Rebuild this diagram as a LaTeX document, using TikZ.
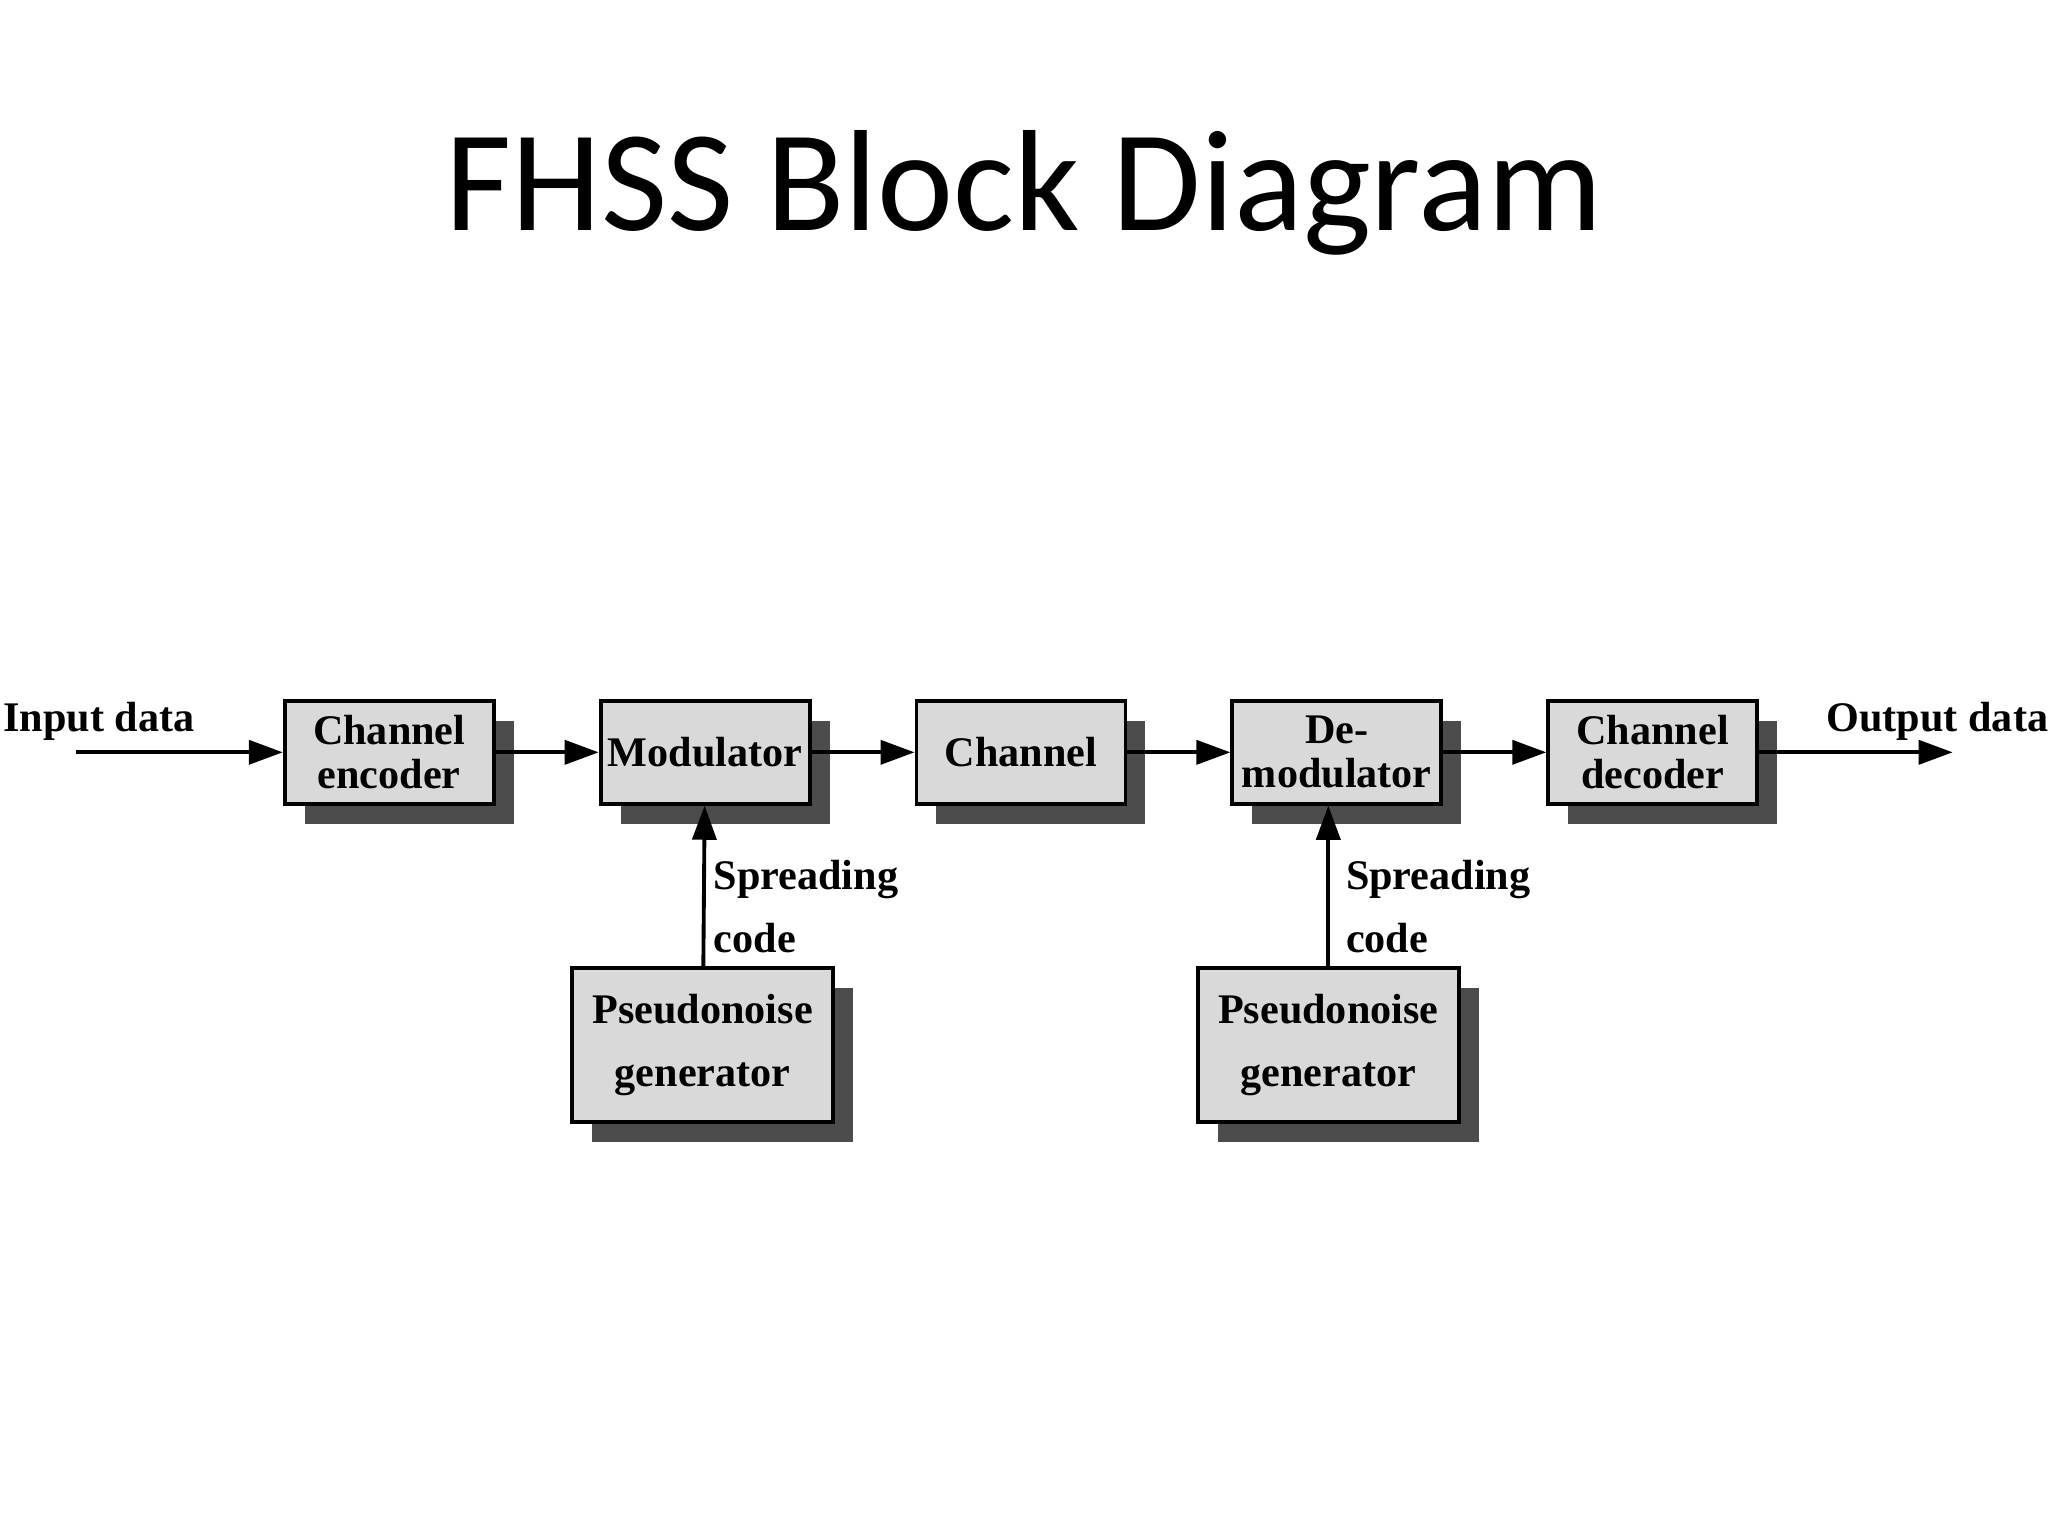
\documentclass[tikz,border=0pt]{standalone}
\usepackage{fontspec}
\setmainfont{Liberation Serif}
\newfontfamily\titlefont{Carlito}
\usetikzlibrary{positioning}
\usetikzlibrary{arrows.meta}
\usetikzlibrary{shadows}

\tikzset{
	block/.style={draw, line width=1.1pt, fill=black!15, align=center,
		font=\fontsize{12}{12.5}\selectfont\bfseries, inner sep=1pt,
		minimum width=2.09cm, minimum height=1.03cm,
		drop shadow={shadow xshift=0.2cm, shadow yshift=-0.2cm, fill=black!70, opacity=1}},
	pnblock/.style={block, minimum width=2.61cm, minimum height=1.54cm,
		font=\fontsize{12}{18}\selectfont\bfseries},
	sig/.style={-{Triangle[length=0.34cm, width=0.24cm]}, line width=1.1pt},
	lbl/.style={font=\fontsize{12}{18}\selectfont\bfseries, inner sep=0pt}
}

\begin{document}
\begin{tikzpicture}[x=0.013061cm, y=-0.013061cm]
	\useasboundingbox (0,0) rectangle (1568,1176);
	\node[font=\titlefont\fontsize{41}{45}\selectfont] (title) at (784,148) {FHSS Block Diagram};

	\node[block] (enc) at (298,576) {Channel\\encoder};
	\node[block, right=1.03cm of enc] (mod) {Modulator};
	\node[block, right=1.03cm of mod] (chan) {Channel};
	\node[block, right=1.03cm of chan] (demod) {De-\\modulator};
	\node[block, right=1.03cm of demod] (dec) {Channel\\decoder};
	\node[pnblock] (pn1) at (538,800) {Pseudonoise\\generator};
	\node[pnblock] (pn2) at (1017,800) {Pseudonoise\\generator};

	\coordinate (in) at (58,576);
	\coordinate (out) at (1495,576);
	\node[lbl, anchor=west] (inlbl) at (2,552) {Input data};
	\node[lbl, anchor=west] (outlbl) at (1398,552) {Output data};

	\draw[sig] (in) -- (enc);
	\draw[sig] (enc) -- (mod);
	\draw[sig] (mod) -- (chan);
	\draw[sig] (chan) -- (demod);
	\draw[sig] (demod) -- (dec);
	\draw[sig] (dec) -- (out);
	\draw[sig] (pn1) -- (mod);
	\draw[sig] (pn2) -- (demod.south -| pn2);

	\node[lbl, anchor=west, align=left] (sc1) at (546,694) {Spreading\\code};
	\node[lbl, anchor=west, align=left] (sc2) at (1030,694) {Spreading\\code};
\end{tikzpicture}
\end{document}
